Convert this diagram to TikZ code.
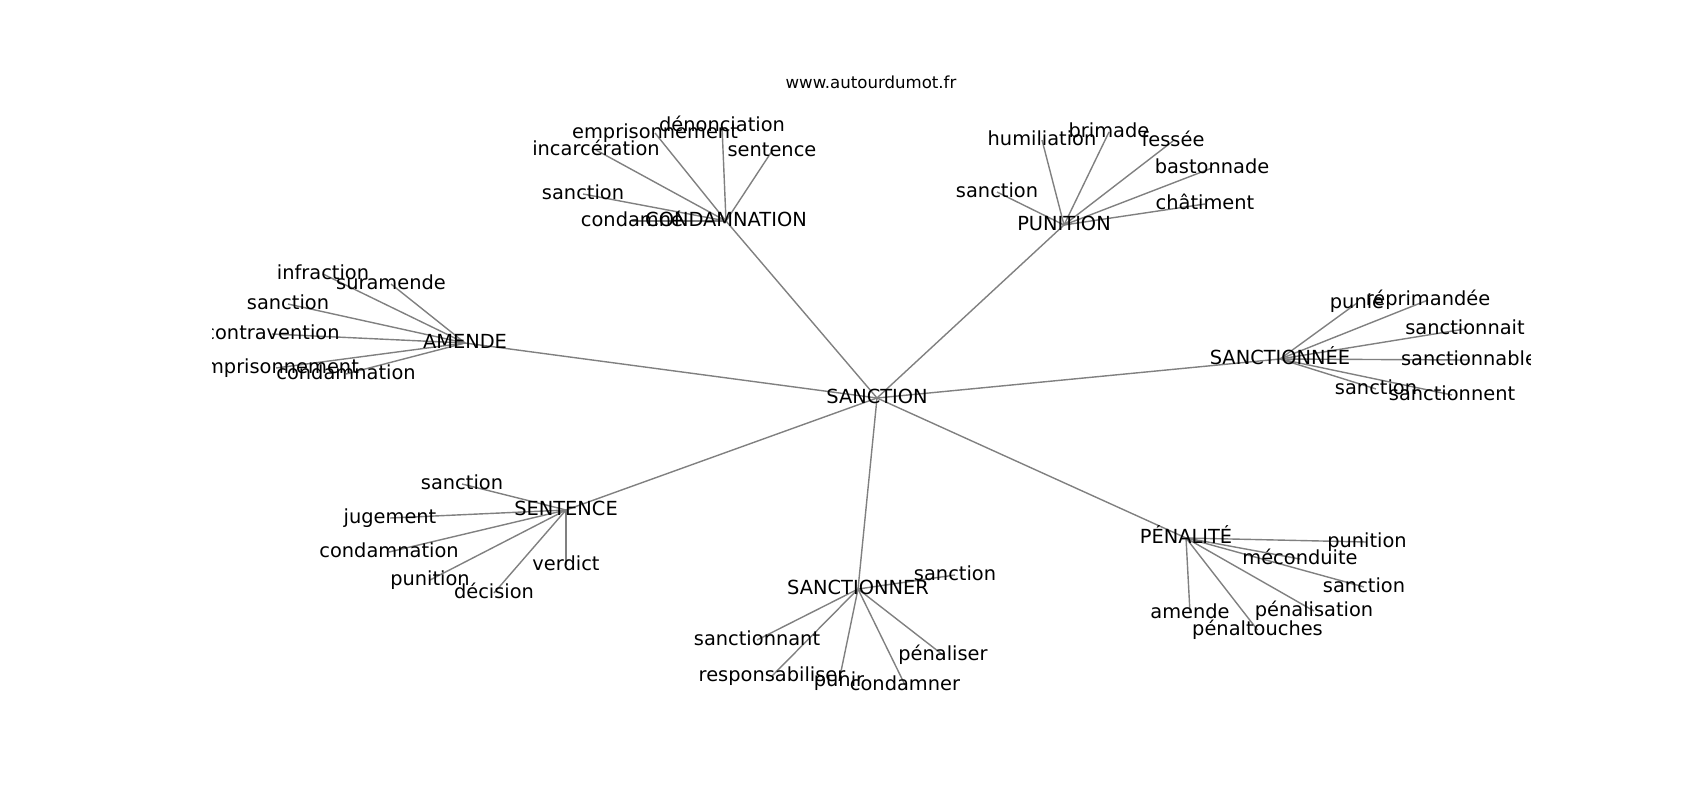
\documentclass[tikz,border=0pt]{standalone}
\usepackage{fontspec}
\setmainfont{DejaVu Sans}
\usetikzlibrary{backgrounds}
\begin{document}
\begin{tikzpicture}[x=0.5pt,y=-0.5pt,
  lbl/.style={font=\fontsize{9.7}{11}\selectfont, inner sep=0pt, text height=7.37pt, text depth=2.33pt, anchor=center},
  edge/.style={draw=black!50, line width=0.7pt}]
\useasboundingbox (0,0) rectangle (1700,800);
\node[font=\fontsize{8.3}{10}\selectfont, inner sep=0pt, text height=6.3pt, text depth=2pt] (title) at (871,84.5) {www.autourdumot.fr};
\begin{scope}
\clip (212.5,0) rectangle (1530,800);
% hubs
\node[lbl] (san) at (877,398) {SANCTION};
\node[lbl] (con) at (726,221) {CONDAMNATION};
\node[lbl] (pun) at (1064,225) {PUNITION};
\node[lbl] (ame) at (465,343) {AMENDE};
\node[lbl] (sne) at (1280,359) {SANCTIONNÉE};
\node[lbl] (sen) at (566,510) {SENTENCE};
\node[lbl] (snr) at (858,589) {SANCTIONNER};
\node[lbl] (pen) at (1186,538) {PÉNALITÉ};
% CONDAMNATION
\node[lbl] (c1) at (655,133) {emprisonnement};
\node[lbl] (c2) at (722,126) {dénonciation};
\node[lbl] (c3) at (596,150) {incarcération};
\node[lbl] (c4) at (772,151) {sentence};
\node[lbl] (c5) at (583,194) {sanction};
\node[lbl] (c6) at (632,221) {condamné};
% AMENDE
\node[lbl] (a1) at (323,274) {infraction};
\node[lbl] (a2) at (391,284) {suramende};
\node[lbl] (a3) at (288,304) {sanction};
\node[lbl] (a4) at (272,334) {contravention};
\node[lbl] (a5) at (276,368) {emprisonnement};
\node[lbl] (a6) at (346,374) {condamnation};
% PUNITION
\node[lbl] (p1) at (1042,140) {humiliation};
\node[lbl] (p2) at (1109,132) {brimade};
\node[lbl] (p3) at (1173,141) {fessée};
\node[lbl] (p4) at (1212,168) {bastonnade};
\node[lbl] (p5) at (1205,204) {châtiment};
\node[lbl] (p6) at (997,192) {sanction};
% SANCTIONNEE
\node[lbl] (e1) at (1357,303) {punie};
\node[lbl] (e2) at (1428,300) {réprimandée};
\node[lbl] (e3) at (1465,329) {sanctionnait};
\node[lbl] (e4) at (1469,360) {sanctionnable};
\node[lbl] (e5) at (1376,389) {sanction};
\node[lbl] (e6) at (1452,395) {sanctionnent};
% SENTENCE
\node[lbl] (s1) at (462,484) {sanction};
\node[lbl] (s2) at (390,518) {jugement};
\node[lbl] (s3) at (389,552) {condamnation};
\node[lbl] (s4) at (430,580) {punition};
\node[lbl] (s5) at (494,593) {décision};
\node[lbl] (s6) at (566,565) {verdict};
% SANCTIONNER
\node[lbl] (r1) at (955,575) {sanction};
\node[lbl] (r2) at (757,640) {sanctionnant};
\node[lbl] (r3) at (772,676) {responsabiliser};
\node[lbl] (r4) at (839,681) {punir};
\node[lbl] (r5) at (905,685) {condamner};
\node[lbl] (r6) at (943,655) {pénaliser};
% PENALITE
\node[lbl] (n1) at (1367,542) {punition};
\node[lbl] (n2) at (1300,559) {méconduite};
\node[lbl] (n3) at (1364,587) {sanction};
\node[lbl] (n4) at (1190,613) {amende};
\node[lbl] (n5) at (1314,611) {pénalisation};
\node[lbl] (n6) at (1257.5,630) {pénaltouches};
\end{scope}
\begin{pgfonlayer}{background}
\foreach \h in {con,pun,ame,sne,sen,snr,pen} \draw[edge] (san.center) -- (\h.center);
\foreach \l in {c1,c2,c3,c4,c5,c6} \draw[edge] (con.center) -- (\l.center);
\foreach \l in {a1,a2,a3,a4,a5,a6} \draw[edge] (ame.center) -- (\l.center);
\foreach \l in {p1,p2,p3,p4,p5,p6} \draw[edge] (pun.center) -- (\l.center);
\foreach \l in {e1,e2,e3,e4,e5,e6} \draw[edge] (sne.center) -- (\l.center);
\foreach \l in {s1,s2,s3,s4,s5,s6} \draw[edge] (sen.center) -- (\l.center);
\foreach \l in {r1,r2,r3,r4,r5,r6} \draw[edge] (snr.center) -- (\l.center);
\foreach \l in {n1,n2,n3,n4,n5,n6} \draw[edge] (pen.center) -- (\l.center);
\end{pgfonlayer}
\end{tikzpicture}
\end{document}
